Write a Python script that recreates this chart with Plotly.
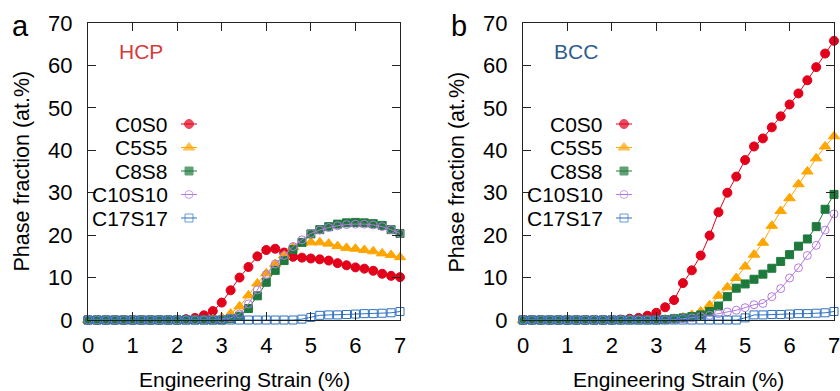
import plotly.graph_objects as go

strain = [0.0, 0.2, 0.4, 0.6, 0.8, 1.0, 1.2, 1.4, 1.6, 1.8, 2.0, 2.2, 2.4, 2.6, 2.8, 3.0, 3.2, 3.4,
          3.6, 3.8, 4.0, 4.2, 4.4, 4.6, 4.8, 5.0, 5.2, 5.4, 5.6, 5.8, 6.0, 6.2, 6.4, 6.6, 6.8, 7.0]

series_names = ["C0S0", "C5S5", "C8S8", "C10S10", "C17S17"]

hcp_c0s0 = [0, 0, 0, 0, 0, 0, 0, 0, 0, 0, 0, 0.2, 0.5, 1.1, 2.1, 4.1, 7.0, 10.0,
            12.5, 15.0, 16.5, 16.8, 15.9, 14.9, 14.7, 14.5, 14.3, 14.0, 13.4, 12.9, 12.4, 12.1, 11.6, 10.9, 10.4, 10.1]
hcp_c5s5 = [0, 0, 0, 0, 0, 0, 0, 0, 0, 0, 0, 0, 0, 0, 0.2, 0.6, 1.5, 3.2,
            5.8, 8.6, 11.0, 13.2, 15.2, 17.2, 18.1, 18.3, 18.3, 18.0, 17.4, 17.0, 16.8, 16.5, 16.2, 15.7, 15.3, 14.8]
hcp_c8s8 = [0, 0, 0, 0, 0, 0, 0, 0, 0, 0, 0, 0, 0, 0, 0, 0, 0.3, 0.9,
            2.7, 5.7, 8.9, 11.7, 14.0, 16.6, 18.3, 20.3, 21.3, 22.0, 22.6, 22.9, 23.0, 22.9, 22.7, 22.3, 21.3, 20.4]
hcp_c10s10 = [0, 0, 0, 0, 0, 0, 0, 0, 0, 0, 0, 0, 0, 0, 0, 0.2, 0.5, 1.4,
              3.8, 7.1, 10.7, 13.2, 15.2, 17.3, 18.9, 20.4, 21.2, 21.8, 22.2, 22.5, 22.6, 22.6, 22.4, 22.0, 21.3, 20.4]
hcp_c17s17 = [0, 0, 0, 0, 0, 0, 0, 0, 0, 0, 0, 0, 0, 0, 0, 0, 0, 0,
              0, 0, 0, 0, 0, 0, 0.2, 0.6, 1.1, 1.2, 1.2, 1.3, 1.4, 1.5, 1.5, 1.6, 1.7, 2.0]

bcc_c0s0 = [0, 0, 0, 0, 0, 0, 0, 0, 0, 0, 0, 0.1, 0.3, 0.5, 1.0, 1.7, 3.0, 4.7,
            8.7, 11.7, 15.2, 19.9, 25.4, 30.0, 33.8, 37.7, 40.9, 42.8, 45.4, 48.0, 50.8, 53.4, 56.5, 59.6, 62.8, 65.8]
bcc_c5s5 = [0, 0, 0, 0, 0, 0, 0, 0, 0, 0, 0, 0, 0, 0, 0, 0, 0.1, 0.3,
            0.6, 1.2, 2.0, 3.5, 5.7, 7.7, 9.9, 12.6, 15.4, 18.2, 22.2, 25.7, 28.7, 32.0, 35.0, 38.1, 40.9, 43.3]
bcc_c8s8 = [0, 0, 0, 0, 0, 0, 0, 0, 0, 0, 0, 0, 0, 0, 0, 0, 0.1, 0.3,
            0.5, 0.8, 1.2, 2.0, 3.3, 5.5, 7.5, 8.5, 9.6, 10.8, 12.2, 13.8, 15.4, 17.4, 19.1, 22.0, 26.1, 29.6]
bcc_c10s10 = [0, 0, 0, 0, 0, 0, 0, 0, 0, 0, 0, 0, 0, 0, 0, 0, 0, 0.1,
              0.3, 0.5, 0.8, 1.1, 1.5, 1.9, 2.3, 2.9, 3.6, 3.9, 5.5, 7.4, 9.9, 12.3, 15.2, 17.6, 21.2, 25.0]
bcc_c17s17 = [0, 0, 0, 0, 0, 0, 0, 0, 0, 0, 0, 0, 0, 0, 0, 0, 0, 0,
              0, 0, 0, 0, 0, 0, 0, 0.5, 1.2, 1.2, 1.3, 1.3, 1.4, 1.5, 1.5, 1.6, 1.7, 2.0]

x_ticks = [0, 1, 2, 3, 4, 5, 6, 7]
y_ticks = [0, 10, 20, 30, 40, 50, 60, 70]

hcp_data = [hcp_c0s0, hcp_c5s5, hcp_c8s8, hcp_c10s10, hcp_c17s17]
bcc_data = [bcc_c0s0, bcc_c5s5, bcc_c8s8, bcc_c10s10, bcc_c17s17]

colors = ["#e3001b", "#ffa500", "#1e7a3c", "#b57be0", "#2f72c0"]
symbols = ["circle", "triangle-up", "square", "circle-open", "square-open"]
sizes = [9, 10, 8, 8, 8]

W, H = 840, 391
FONT = "Liberation Sans, Arial, Helvetica, sans-serif"

def px_x(p):
    return p / W

def px_y(p):
    return 1 - p / H

fig = go.Figure()

panels = [
    dict(data=hcp_data, xa="x", ya="y"),
    dict(data=bcc_data, xa="x2", ya="y2"),
]

for pan in panels:
    for name, vals, c, s, sz in zip(series_names, pan["data"], colors, symbols, sizes):
        fig.add_trace(go.Scatter(
            x=strain, y=vals, mode="lines+markers", name=name,
            xaxis=pan["xa"], yaxis=pan["ya"],
            line=dict(color=c, width=1),
            marker=dict(symbol=s, size=sz, color=c, line=dict(color=c, width=1)),
            cliponaxis=False, showlegend=False,
        ))

top_px, bot_px = 23, 320
axis_common = dict(
    showline=True, linecolor="#222222", linewidth=1, mirror="allticks",
    ticks="inside", ticklen=8, tickwidth=1, tickcolor="#222222",
    showgrid=False, zeroline=False, automargin=False, ticklabeloverflow="allow",
    tickfont=dict(family=FONT, size=22, color="black"),
)
ydom = [px_y(bot_px), px_y(top_px)]
layout = dict(
    width=W, height=H, margin=dict(l=0, r=0, t=0, b=0, autoexpand=False),
    paper_bgcolor="white", plot_bgcolor="white", showlegend=False,
    xaxis=dict(domain=[px_x(88), px_x(400)], range=[0, 7], tickvals=x_ticks, anchor="y",
               ticklabelstandoff=6, **axis_common),
    yaxis=dict(domain=ydom, range=[0, 70], tickvals=y_ticks, anchor="x",
               ticklabelstandoff=10, **axis_common),
    xaxis2=dict(domain=[px_x(523), px_x(834)], range=[0, 7], tickvals=x_ticks, anchor="y2",
                ticklabelstandoff=6, **axis_common),
    yaxis2=dict(domain=ydom, range=[0, 70], tickvals=y_ticks, anchor="x2",
                ticklabelstandoff=10, **axis_common),
)

# legend axes (pixel-placed sample areas)
row_top, row_bot = 112.25, 229.75
rows = [0, 1, 2, 3, 4]
legend_ax = dict(showgrid=False, zeroline=False, showline=False, showticklabels=False,
                 ticks="", fixedrange=True, automargin=False)
layout["xaxis3"] = dict(domain=[px_x(181), px_x(197)], range=[0, 1], anchor="y3", **legend_ax)
layout["yaxis3"] = dict(domain=[px_y(row_bot), px_y(row_top)], range=[4.5, -0.5], anchor="x3", **legend_ax)
layout["xaxis4"] = dict(domain=[px_x(616), px_x(632)], range=[0, 1], anchor="y4", **legend_ax)
layout["yaxis4"] = dict(domain=[px_y(row_bot), px_y(row_top)], range=[4.5, -0.5], anchor="x4", **legend_ax)
fig.update_layout(**layout)

annotations = []
for xa, ya, text_right in [("x3", "y3", 170), ("x4", "y4", 605)]:
    for r, name, c, s, sz in zip(rows, series_names, colors, symbols, sizes):
        fig.add_trace(go.Scatter(
            x=[0, 0.5, 1], y=[r, r, r], mode="lines+markers", xaxis=xa, yaxis=ya,
            line=dict(color=c, width=1),
            marker=dict(symbol=s, size=[0, sz, 0], color=c, line=dict(color=c, width=1)),
            cliponaxis=False, showlegend=False, hoverinfo="skip",
        ))
        annotations.append(dict(
            x=px_x(text_right), xref="paper", y=r, yref=ya, text=name, showarrow=False,
            xanchor="right", yanchor="middle", font=dict(family=FONT, size=21, color="black"),
        ))

# panel labels, phase labels, axis titles
annotations += [
    dict(x=px_x(20), y=px_y(26), xref="paper", yref="paper", text="a", showarrow=False,
         font=dict(family=FONT, size=29, color="black"), xanchor="center", yanchor="middle"),
    dict(x=px_x(459), y=px_y(26), xref="paper", yref="paper", text="b", showarrow=False,
         font=dict(family=FONT, size=29, color="black"), xanchor="center", yanchor="middle"),
    dict(x=px_x(141), y=px_y(51), xref="paper", yref="paper", text="HCP", showarrow=False,
         font=dict(family=FONT, size=21, color="#d93a3a"), xanchor="center", yanchor="middle"),
    dict(x=px_x(576), y=px_y(51), xref="paper", yref="paper", text="BCC", showarrow=False,
         font=dict(family=FONT, size=21, color="#2e5d8e"), xanchor="center", yanchor="middle"),
    dict(x=px_x(21), y=px_y(171.5), xref="paper", yref="paper", text="Phase fraction (at.%)",
         showarrow=False, textangle=-90, font=dict(family=FONT, size=21.5, color="black"),
         xanchor="center", yanchor="middle"),
    dict(x=px_x(456), y=px_y(171.5), xref="paper", yref="paper", text="Phase fraction (at.%)",
         showarrow=False, textangle=-90, font=dict(family=FONT, size=21.5, color="black"),
         xanchor="center", yanchor="middle"),
    dict(x=px_x(244), y=px_y(379), xref="paper", yref="paper", text="Engineering Strain (%)",
         showarrow=False, font=dict(family=FONT, size=21, color="black"),
         xanchor="center", yanchor="middle"),
    dict(x=px_x(678), y=px_y(379), xref="paper", yref="paper", text="Engineering Strain (%)",
         showarrow=False, font=dict(family=FONT, size=21, color="black"),
         xanchor="center", yanchor="middle"),
]
fig.update_layout(annotations=annotations)

fig.write_html("out.html")
